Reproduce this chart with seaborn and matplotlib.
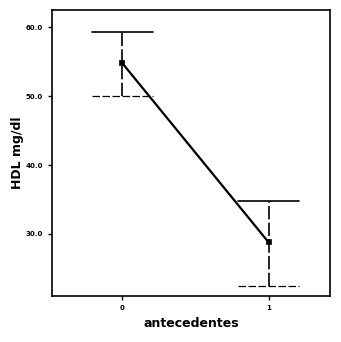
import matplotlib
matplotlib.use("Agg")
import matplotlib.pyplot as plt
import seaborn as sns
import pandas as pd

categories = ["0", "1"]
means = [54.8, 28.8]
upper = [59.3, 34.8]
lower = [50.0, 22.5]
yticks = [30, 40, 50, 60]
ytick_labels = ["30.0", "40.0", "50.0", "60.0"]

sns.set_theme(style="white")
plt.rcParams['font.family'] = ['DejaVu Sans']

fig = plt.figure(figsize=(3.41, 3.42), dpi=100)
ax = fig.add_axes([52/341, 46/342, 278/341, 286/342])

df = pd.DataFrame({"antecedentes": categories, "HDL": means})
sns.pointplot(data=df, x="antecedentes", y="HDL", errorbar=None, color="black",
              markers="s", scale=0.6, linewidth=1.2, ax=ax)

xs = list(range(len(categories)))
for x, m, u, l in zip(xs, means, upper, lower):
    ax.plot([x, x], [l, u], color="black", lw=1.2, ls=(0, (8, 2)))
    ax.plot([x - 0.21, x + 0.21], [u, u], color="black", lw=1.2)
    ax.plot([x - 0.21, x + 0.21], [l, l], color="black", lw=0.9, ls=(0, (6, 2)))

ax.set_xlim(-0.48, 1.42)
ax.set_ylim(21.0, 62.5)
ax.set_yticks(yticks)
ax.set_yticklabels(ytick_labels, fontsize=5, fontweight="bold")
ax.set_xticks(xs)
ax.set_xticklabels(categories, fontsize=5, fontweight="bold")
ax.tick_params(axis="both", direction="out", length=3, width=1, colors="black",
               labelcolor="black", left=True, bottom=True)
for s in ax.spines.values():
    s.set_color("black")
    s.set_linewidth(1.2)
ax.set_xlabel("antecedentes", fontsize=9, fontweight="bold", labelpad=4, color="black")
ax.set_ylabel("HDL mg/dl", fontsize=9, fontweight="bold", labelpad=1, color="black")

fig.savefig("out.png", dpi=100)
